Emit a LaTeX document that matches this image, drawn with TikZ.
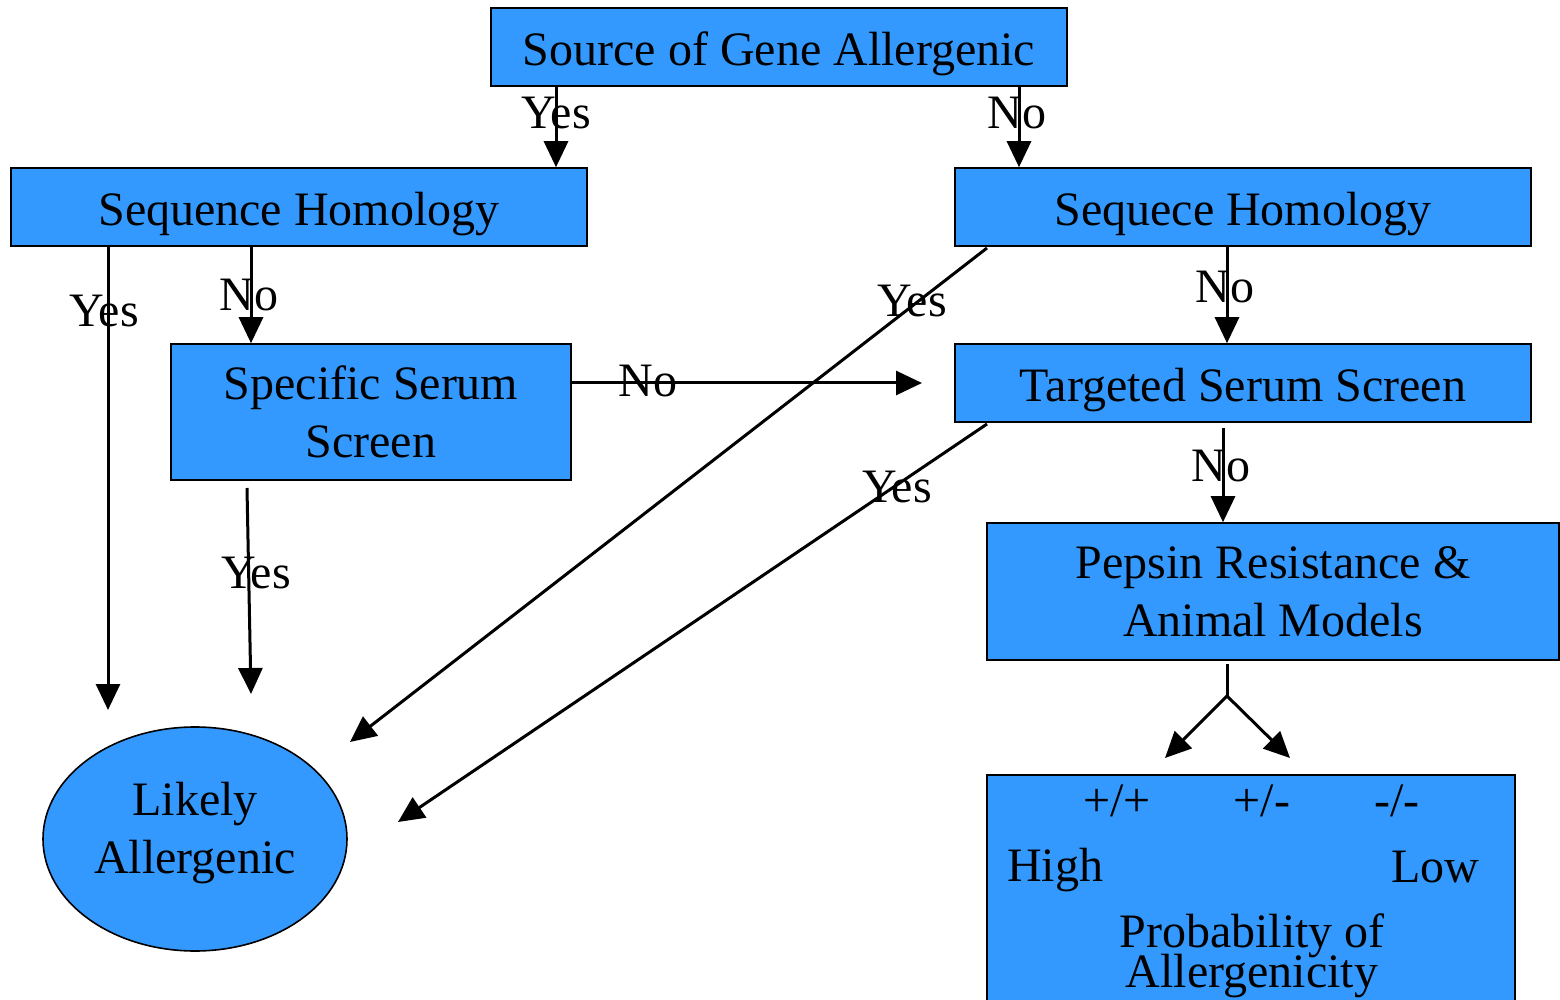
\documentclass[tikz,border=0pt]{standalone}
\usepackage{fontspec}
\setmainfont{Liberation Serif}
\usetikzlibrary{arrows.meta,shapes.geometric}
\definecolor{boxblue}{HTML}{3399FF}
\begin{document}
\begin{tikzpicture}[x=0.5pt,y=-0.5pt,
  box/.style={draw=black, line width=0.8pt, fill=boxblue, inner sep=0pt, align=center,
    font=\fontsize{24}{29}\selectfont},
  one/.style={text height=19pt, text depth=0pt},
  arr/.style={line width=1.5pt, -{Triangle[length=13pt,width=12pt]}},
  plain/.style={line width=1.5pt},
  lbl/.style={font=\fontsize{24}{29}\selectfont, inner sep=0pt},
  txt/.style={font=\fontsize{24}{29}\selectfont, inner sep=0pt}]
\useasboundingbox (0,0) rectangle (1560,1000);
\clip (0,0) rectangle (1560,1000);

% boxes
\node[box, one, minimum width=288pt, minimum height=39pt] (A) at (779,47) {Source of Gene Allergenic};
\node[box, one, minimum width=288pt, minimum height=39pt] (B) at (299,207) {Sequence Homology};
\node[box, one, minimum width=288pt, minimum height=39pt] (C) at (1243,207) {Sequece Homology};
\node[box, minimum width=200pt, minimum height=68pt] (D) at (371,412) {Specific Serum\\Screen};
\node[box, one, minimum width=288pt, minimum height=39pt] (E) at (1243,383) {Targeted Serum Screen};
\node[box, minimum width=286pt, minimum height=68.5pt] (F) at (1273,591.5) {Pepsin Resistance \&\\Animal Models};
\node[box, minimum width=264pt, minimum height=120pt] (G) at (1251,895) {};
\node[box, ellipse, minimum width=152pt, minimum height=112pt] (L) at (195,839) {};
\node[txt, align=center] (Ltxt) at (195,833) {Likely\\Allergenic};

% texts inside G
\node[txt] (g1) at (1117,801) {+/+};
\node[txt] (g2) at (1262,801) {+/-};
\node[txt] (g3) at (1397,801) {-/-};
\node[txt] (g4) at (1055,870) {High};
\node[txt] (g5) at (1435,867) {Low};
\node[txt] (g6) at (1252,936) {Probability of};
\node[txt] (g7) at (1252,976) {Allergenicity};

% free ends
\coordinate (tBY) at (108,710);
\coordinate (tDE) at (922,383);
\coordinate (sDY) at (247,488);
\coordinate (tDY) at (251,694);
\coordinate (sCY) at (987,248);
\coordinate (tCY) at (350,742);
\coordinate (sEY) at (987,424);
\coordinate (tEY) at (398,822);
\coordinate (sEN) at (1223,428);
\coordinate (sF) at (1227,664);
\coordinate (split) at (1227,696);
\coordinate (tF1) at (1165,758);
\coordinate (tF2) at (1290,758);

% connectors
\draw[arr] (556,0 |- A.south) -- (556,0 |- B.north);
\draw[arr] (1019,0 |- A.south) -- (1019,0 |- C.north);
\draw[arr] (108,0 |- B.south) -- (tBY);
\draw[arr] (251,0 |- B.south) -- (251,0 |- D.north);
\draw[arr] (D.east |- tDE) -- (tDE);
\draw[arr] (sDY) -- (tDY);
\draw[arr] (sCY) -- (tCY);
\draw[arr] (1227,0 |- C.south) -- (1227,0 |- E.north);
\draw[arr] (sEY) -- (tEY);
\draw[arr] (sEN) -- (sEN |- F.north);
\draw[plain] (sF) -- (split);
\draw[arr] (split) -- (tF1);
\draw[arr] (split) -- (tF2);

% labels
\node[lbl] (l1) at (556,113) {Yes};
\node[lbl] (l2) at (1017,113) {No};
\node[lbl] (l3) at (104,311) {Yes};
\node[lbl] (l4) at (249,295) {No};
\node[lbl] (l5) at (648,381) {No};
\node[lbl] (l6) at (256,573) {Yes};
\node[lbl] (l7) at (912,301) {Yes};
\node[lbl] (l8) at (1225,287) {No};
\node[lbl] (l9) at (897,487) {Yes};
\node[lbl] (l10) at (1221,466) {No};
\end{tikzpicture}
\end{document}
